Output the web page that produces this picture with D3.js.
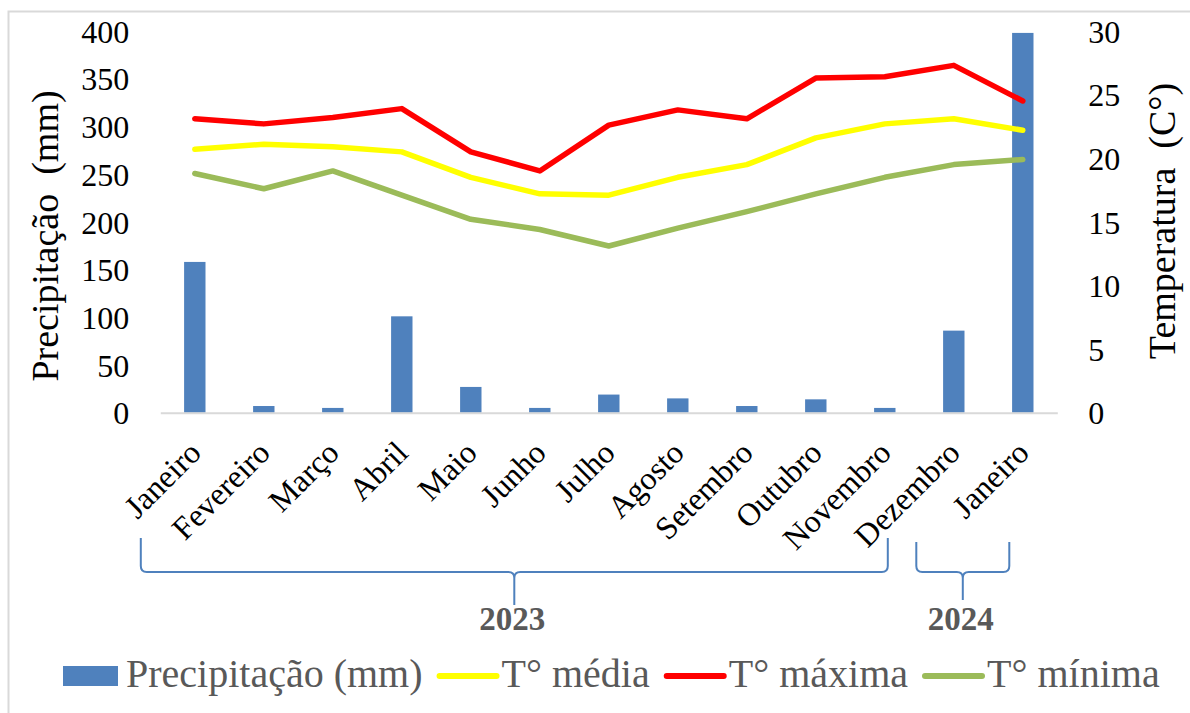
<!DOCTYPE html>
<html>
<head>
<meta charset="utf-8">
<script src="https://cdn.jsdelivr.net/npm/d3@7"></script>
<style>
  html, body { margin: 0; padding: 0; background: #fff; }
  svg { display: block; }
</style>
</head>
<body>
<script>
// Monthly climate record: rainfall bars plus daily temperature lines
const months = ["Janeiro", "Fevereiro", "Março", "Abril", "Maio", "Junho", "Julho",
                "Agosto", "Setembro", "Outubro", "Novembro", "Dezembro", "Janeiro"];
const precipitation = [158, 7, 5, 101, 27, 5, 19, 15, 7, 14, 5, 86, 398];
const tempMean = [20.7, 21.1, 20.9, 20.5, 18.5, 17.2, 17.1, 18.5, 19.5, 21.6, 22.7, 23.1, 22.2];
const tempMax  = [23.1, 22.7, 23.2, 23.9, 20.5, 19.0, 22.6, 23.8, 23.1, 26.3, 26.4, 27.3, 24.5];
const tempMin  = [18.8, 17.6, 19.0, 17.1, 15.2, 14.4, 13.1, 14.5, 15.8, 17.2, 18.5, 19.5, 19.9];
const precipTicks = [0, 50, 100, 150, 200, 250, 300, 350, 400];
const tempTicks = [0, 5, 10, 15, 20, 25, 30];
const yearLabels = ["2023", "2024"];
const yearFirst = [0, 12];
const yearLast = [11, 12];
const legendLabels = ["Precipitação (mm)", "T° média", "T° máxima", "T° mínima"];

const W = 1190, H = 713;
const FONT = "'Liberation Serif', 'Times New Roman', Times, serif";
const plot = { left: 160.3, right: 1057.3, top: 31, bottom: 412.7 };
const colors = { bar: "#4F81BD", mean: "#FFFF00", max: "#FF0000", min: "#9BBB59", bracket: "#4F81BD" };

const svg = d3.select("body").append("svg").attr("width", W).attr("height", H)
  .style("font-family", FONT);
svg.append("rect").attr("width", W).attr("height", H).attr("fill", "#fff");
// chart area frame
svg.append("rect").attr("x", 8.5).attr("y", 11.5).attr("width", 1200).attr("height", 720)
  .attr("fill", "none").attr("stroke", "#D9D9D9").attr("stroke-width", 2);

const x = d3.scaleBand().domain(d3.range(months.length))
  .range([plot.left, plot.right]).paddingInner(0.69).paddingOuter(0.345);
const cx = i => x(i) + x.bandwidth() / 2;
const yP = d3.scaleLinear().domain([0, 400]).range([plot.bottom, plot.top]);
const yT = d3.scaleLinear().domain([0, 30]).range([plot.bottom, plot.top]);

// bars
svg.append("g").selectAll("rect").data(precipitation).join("rect")
  .attr("x", (d, i) => x(i)).attr("width", x.bandwidth())
  .attr("y", d => yP(d)).attr("height", d => yP(0) - yP(d))
  .attr("fill", colors.bar);

// category axis
const xAxis = svg.append("g").attr("transform", `translate(0,${plot.bottom})`)
  .call(d3.axisBottom(x).tickSize(0).tickFormat(i => months[i]))
  .attr("font-family", null);
xAxis.select(".domain").attr("stroke", "#D9D9D9").attr("stroke-width", 2);
xAxis.selectAll(".tick text")
  .style("font-family", FONT).attr("font-size", 32).attr("fill", "#000")
  .attr("text-anchor", "end").attr("x", 0).attr("y", 0).attr("dy", 0)
  .attr("transform", "translate(8,42) rotate(-45)");

// left axis
const yAxisL = svg.append("g").attr("transform", `translate(${plot.left},0)`)
  .call(d3.axisLeft(yP).tickValues(precipTicks).tickSize(0).tickPadding(31))
  .attr("font-family", null);
yAxisL.select(".domain").remove();
yAxisL.selectAll(".tick text").style("font-family", FONT)
  .attr("font-size", 32).attr("fill", "#000").attr("dy", "0.35em");

// right axis
const yAxisR = svg.append("g").attr("transform", `translate(${plot.right},0)`)
  .call(d3.axisRight(yT).tickValues(tempTicks).tickSize(0).tickPadding(31))
  .attr("font-family", null);
yAxisR.select(".domain").remove();
yAxisR.selectAll(".tick text").style("font-family", FONT)
  .attr("font-size", 32).attr("fill", "#000").attr("dy", "0.35em");

// axis titles
svg.append("text").attr("transform", "translate(58,236) rotate(-90)")
  .style("font-family", FONT).style("white-space", "pre")
  .attr("text-anchor", "middle").attr("font-size", 38).attr("fill", "#000")
  .text("Precipitação  (mm)");
svg.append("text").attr("transform", "translate(1175,221) rotate(-90)")
  .style("font-family", FONT).style("white-space", "pre")
  .attr("text-anchor", "middle").attr("font-size", 38).attr("fill", "#000")
  .text("Temperatura  (C°)");

// temperature lines
const line = d3.line().x((d, i) => cx(i)).y(d => yT(d));
[[tempMin, colors.min], [tempMean, colors.mean], [tempMax, colors.max]].forEach(([s, c]) => {
  svg.append("path").datum(s).attr("d", line).attr("fill", "none")
    .attr("stroke", c).attr("stroke-width", 5.5)
    .attr("stroke-linejoin", "round").attr("stroke-linecap", "round");
});

// year brackets under the category labels
const bracketOffsets = [[-54, -66], [-106.5, -13.5]];
const bracketTop = [538, 542], braceY = 572, spikeY = [605, 600];
yearLabels.forEach((lab, k) => {
  const x0 = cx(yearFirst[k]) + bracketOffsets[k][0];
  const x1 = cx(yearLast[k]) + bracketOffsets[k][1];
  const m = (x0 + x1) / 2, r = 6;
  const p = d3.path();
  p.moveTo(x0, bracketTop[k]); p.lineTo(x0, braceY - r);
  p.quadraticCurveTo(x0, braceY, x0 + r, braceY); p.lineTo(m - r, braceY);
  p.quadraticCurveTo(m, braceY, m, braceY + r); p.lineTo(m, spikeY[k]);
  p.moveTo(m, braceY + r); p.quadraticCurveTo(m, braceY, m + r, braceY);
  p.lineTo(x1 - r, braceY); p.quadraticCurveTo(x1, braceY, x1, braceY - r);
  p.lineTo(x1, bracketTop[k]);
  svg.append("path").attr("d", p.toString()).attr("fill", "none")
    .attr("stroke", colors.bracket).attr("stroke-width", 2);
  svg.append("text").attr("x", m - 2).attr("y", 630).attr("text-anchor", "middle")
    .style("font-family", FONT)
    .attr("font-size", 33).attr("font-weight", "bold").attr("fill", "#595959").text(lab);
});

// legend
const legend = svg.append("g");
let lx = 63;
const ly = 676;
const sym = [
  { type: "rect", color: colors.bar },
  { type: "line", color: colors.mean },
  { type: "line", color: colors.max },
  { type: "line", color: colors.min }
];
legendLabels.forEach((lab, i) => {
  if (sym[i].type === "rect") {
    legend.append("rect").attr("x", lx).attr("y", ly - 10).attr("width", 55).attr("height", 20)
      .attr("fill", sym[i].color);
    lx += 63;
  } else {
    legend.append("line").attr("x1", lx).attr("x2", lx + 57).attr("y1", ly).attr("y2", ly)
      .attr("stroke", sym[i].color).attr("stroke-width", 6).attr("stroke-linecap", "round");
    lx += 62;
  }
  const t = legend.append("text").attr("x", lx).attr("y", ly + 11)
    .style("font-family", FONT)
    .attr("font-size", 40).attr("fill", "#595959").text(lab);
  lx += t.node().getComputedTextLength() + 17;
});
</script>
</body>
</html>
